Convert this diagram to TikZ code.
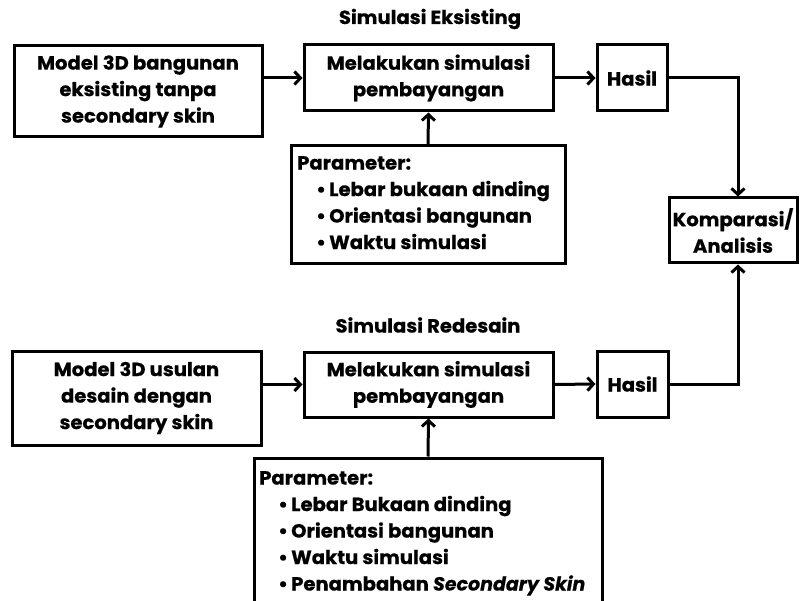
\documentclass[tikz,border=0pt]{standalone}
\usepackage{fontspec}
\setmainfont{Poppins}[FakeStretch=1.03,BoldFeatures={FakeBold=0.6,FakeStretch=1.03},BoldItalicFeatures={FakeBold=0.6,FakeStretch=1.0}]
\usetikzlibrary{arrows.meta}
\newcommand{\bit}[1]{\\\hspace*{19pt}\makebox[13pt][l]{\textbullet}#1}
\begin{document}
\begin{tikzpicture}[x=1pt,y=-1pt,
  every node/.style={font=\bfseries\fontsize{19}{26.5}\selectfont},
  box/.style={draw,line width=3pt,rectangle,inner sep=0pt,align=center},
  ttl/.style={inner sep=0pt},
  ptext/.style={inner sep=0pt,align=left},
  arr/.style={line width=3pt,-{Straight Barb[length=6pt,width=13pt,line width=3pt]}},
  ln/.style={line width=3pt}]
\useasboundingbox (0,0) rectangle (800,601);
\fill[white] (0,0) rectangle (800,601);
\node[ttl] (t1) at (430,19) {Simulasi Eksisting};
\node[ttl] (t2) at (428,325) {Simulasi Redesain};
% top row
\node[box,minimum width=248,minimum height=91] (a1) at (138,91.5) {Model 3D bangunan\\eksisting tanpa\\secondary skin};
\node[box,minimum width=249,minimum height=66] (b1) at (428.5,78) {Melakukan simulasi\\pembayangan};
\node[box,minimum width=70,minimum height=66] (h1) at (632,78) {Hasil};
\node[box,minimum width=128,minimum height=65] (k) at (733,230.5) {Komparasi/\\Analisis};
\node[box,minimum width=274,minimum height=118] (p1) at (428,205) {};
\node[ptext,anchor=north west] (p1t) at (297,156) {Parameter:\bit{Lebar bukaan dinding}\bit{Orientasi bangunan}\bit{Waktu simulasi}};
% bottom row
\node[box,minimum width=249,minimum height=94] (a2) at (136.5,398) {Model 3D usulan\\desain dengan\\secondary skin};
\node[box,minimum width=249,minimum height=65] (b2) at (428.5,384.5) {Melakukan simulasi\\pembayangan};
\node[box,minimum width=71,minimum height=66] (h2) at (632.5,384) {Hasil};
\node[box,minimum width=348,minimum height=200] (p2) at (428,558) {};
\node[ptext,anchor=north west] (p2t) at (259,471) {Parameter:\bit{Lebar Bukaan dinding}\bit{Orientasi bangunan}\bit{Waktu simulasi}\bit{Penambahan \textit{Secondary Skin}}};
% connectors
\draw[arr] (a1.east |- b1.west) -- (b1.west);
\draw[arr] (b1.east) -- (h1.west);
\draw[arr] (p1.north) -- (b1.south);
\draw[arr] (h1.east) -| ([xshift=5pt]k.north);
\draw[arr] (a2.east |- b2.west) -- (b2.west);
\draw[arr] (b2.east) -- (h2.west);
\draw[arr] (p2.north) -- (b2.south);
\draw[arr] (h2.east) -| ([xshift=5pt]k.south);
\end{tikzpicture}
\end{document}
